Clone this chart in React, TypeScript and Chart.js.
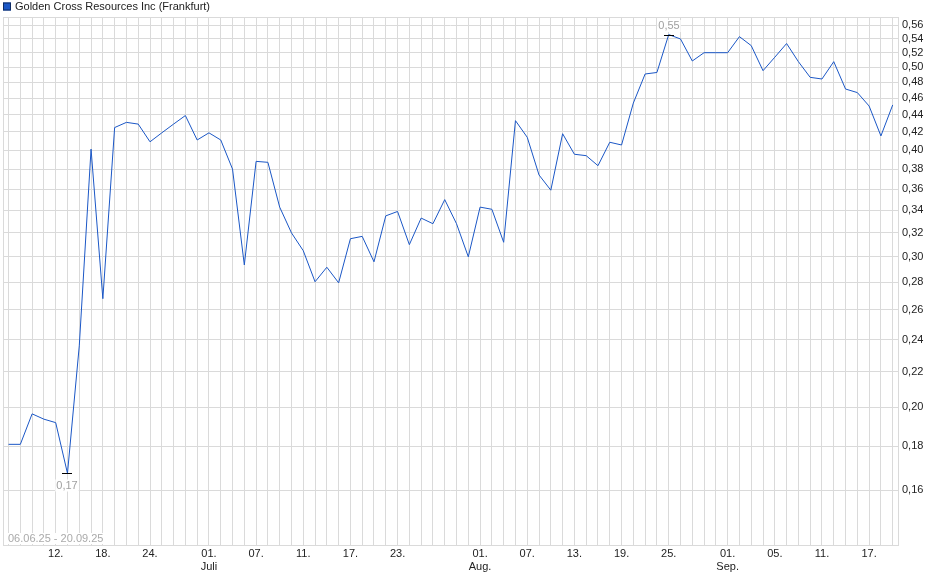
import { useEffect, useRef } from 'react'
import { Chart, registerables } from 'chart.js'

Chart.register(...registerables)

const TITLE = 'Golden Cross Resources Inc (Frankfurt)'
const RANGE_TEXT = '06.06.25 - 20.09.25'

// trading days, 06.06.25 - 19.09.25
const DATES = [
  '06.06', '09.06', '10.06', '11.06', '12.06', '13.06', '16.06', '17.06', '18.06', '19.06',
  '20.06', '23.06', '24.06', '25.06', '26.06', '27.06', '30.06',
  '01.07', '02.07', '03.07', '04.07', '07.07', '08.07', '09.07', '10.07', '11.07', '14.07',
  '15.07', '16.07', '17.07', '18.07', '21.07', '22.07', '23.07', '24.07', '25.07', '28.07',
  '29.07', '30.07', '31.07',
  '01.08', '04.08', '05.08', '06.08', '07.08', '08.08', '11.08', '12.08', '13.08', '14.08',
  '15.08', '18.08', '19.08', '20.08', '21.08', '22.08', '25.08', '26.08', '27.08', '28.08',
  '29.08',
  '01.09', '02.09', '03.09', '04.09', '05.09', '08.09', '09.09', '10.09', '11.09', '12.09',
  '15.09', '16.09', '17.09', '18.09', '19.09',
]

const PRICES = [
  0.181, 0.181, 0.1965, 0.1937, 0.1919, 0.1674, 0.236, 0.401, 0.268, 0.425,
  0.431, 0.429, 0.409, 0.419, 0.429, 0.439, 0.411,
  0.419, 0.411, 0.38, 0.2935, 0.388, 0.387, 0.343, 0.32, 0.305, 0.2805,
  0.2917, 0.2797, 0.315, 0.317, 0.296, 0.335, 0.339, 0.31, 0.333, 0.328,
  0.35, 0.328, 0.3,
  0.343, 0.341, 0.312, 0.433, 0.414, 0.374, 0.359, 0.418, 0.3955, 0.394,
  0.3835, 0.4085, 0.4055, 0.454, 0.491, 0.493, 0.546, 0.5396, 0.5085, 0.52,
  0.52,
  0.52, 0.543, 0.53, 0.4954, 0.5137, 0.533, 0.5076, 0.4866, 0.4844, 0.5076,
  0.4715, 0.467, 0.4504, 0.4155, 0.4517,
]

const X_TICKS = [
  '12.06', '18.06', '24.06', '01.07', '07.07', '11.07', '17.07', '23.07', '01.08',
  '07.08', '13.08', '19.08', '25.08', '01.09', '05.09', '11.09', '17.09',
]
const MONTHS: Record<string, string> = { '01.07': 'Juli', '01.08': 'Aug.', '01.09': 'Sep.' }

const Y_TICKS = [
  0.16, 0.18, 0.2, 0.22, 0.24, 0.26, 0.28, 0.3, 0.32, 0.34, 0.36, 0.38, 0.4, 0.42, 0.44,
  0.46, 0.48, 0.5, 0.52, 0.54, 0.56,
]

const LINE_COLOR = '#1b57c6'
const GRID_COLOR = '#dadada'
const FONT = '"Liberation Sans", Arial, sans-serif'

const fmt = (v: number) => v.toFixed(2).replace('.', ',')

const overlay = {
  id: 'overlay',
  beforeDatasetsDraw(chart: any) {
    const { ctx, chartArea: a } = chart
    ctx.save()
    ctx.strokeStyle = GRID_COLOR
    ctx.lineWidth = 1
    ctx.strokeRect(Math.round(a.left) + 0.5, Math.round(a.top) + 0.5, Math.round(a.right - a.left), Math.round(a.bottom - a.top))
    ctx.restore()
  },
  afterDraw(chart: any) {
    const { ctx, chartArea: a } = chart
    const xs = chart.scales.x
    const ys = chart.scales.y
    ctx.save()
    ctx.font = `11px ${FONT}`
    ctx.textBaseline = 'middle'

    // legend
    ctx.fillStyle = LINE_COLOR
    ctx.fillRect(3, 2.5, 8, 8)
    ctx.strokeStyle = '#0d2b63'
    ctx.strokeRect(3.5, 3, 7, 7)
    ctx.fillStyle = '#222'
    ctx.textAlign = 'left'
    ctx.fillText(TITLE, 15, 7)

    // date range
    const rw = ctx.measureText(RANGE_TEXT).width
    ctx.fillStyle = '#fff'
    ctx.fillRect(a.left + 4, a.bottom - 12, rw + 3, 11)
    ctx.fillStyle = '#aaa'
    ctx.fillText(RANGE_TEXT, a.left + 5, a.bottom - 6)

    // max / min markers
    const hi = PRICES.indexOf(Math.max(...PRICES))
    const lo = PRICES.indexOf(Math.min(...PRICES))
    const marks = [
      { i: hi, dy: -9.5 },
      { i: lo, dy: 12 },
    ]
    ctx.textAlign = 'center'
    for (const m of marks) {
      const px = Math.round(xs.getPixelForValue(m.i))
      const py = Math.round(ys.getPixelForValue(PRICES[m.i])) + 0.5
      ctx.strokeStyle = '#000'
      ctx.lineWidth = 1
      ctx.beginPath()
      ctx.moveTo(px - 5, py)
      ctx.lineTo(px + 5, py)
      ctx.stroke()
      const label = fmt(PRICES[m.i])
      const w = ctx.measureText(label).width
      ctx.fillStyle = '#fff'
      ctx.fillRect(px - w / 2 - 1, py + m.dy - 6, w + 2, 12)
      ctx.fillStyle = '#a0a0a0'
      ctx.fillText(label, px, py + m.dy)
    }
    ctx.restore()
  },
}

export default function App() {
  const canvasRef = useRef<HTMLCanvasElement>(null)
  const chartRef = useRef<Chart | null>(null)

  useEffect(() => {
    document.body.style.margin = '0'
    if (!canvasRef.current) return

    if (chartRef.current) {
      chartRef.current.destroy()
    }

    chartRef.current = new Chart(canvasRef.current, {
      type: 'line',
      data: {
        datasets: [
          {
            label: TITLE,
            data: PRICES.map((v, i) => ({ x: i, y: v })),
            borderColor: LINE_COLOR,
            borderWidth: 1,
            pointRadius: 0,
            tension: 0,
            fill: false,
          },
        ],
      },
      options: {
        responsive: true,
        maintainAspectRatio: false,
        animation: false,
        layout: { padding: { left: 3, top: 17, right: 0, bottom: 0 } },
        plugins: {
          legend: { display: false },
          tooltip: { enabled: false },
        },
        scales: {
          x: {
            type: 'linear',
            min: -0.47,
            max: 75.45,
            afterBuildTicks: (scale: any) => {
              scale.ticks = DATES.map((_, i) => ({ value: i }))
            },
            afterFit: (scale: any) => {
              scale.height = 34
            },
            grid: { color: GRID_COLOR, drawTicks: false },
            border: { color: GRID_COLOR },
            ticks: {
              autoSkip: false,
              maxRotation: 0,
              minRotation: 0,
              padding: 2,
              color: '#222',
              font: { family: FONT, size: 11 },
              callback: (value: any) => {
                const d = DATES[Number(value)]
                if (!X_TICKS.includes(d)) return ''
                const day = d.slice(0, 3)
                return MONTHS[d] ? [day, MONTHS[d]] : day
              },
            },
          },
          y: {
            type: 'logarithmic',
            position: 'right',
            min: 0.138,
            max: 0.5725,
            afterBuildTicks: (scale: any) => {
              scale.ticks = Y_TICKS.map(v => ({ value: v }))
            },
            afterFit: (scale: any) => {
              scale.width = 42
            },
            grid: { color: GRID_COLOR, drawTicks: false },
            border: { color: GRID_COLOR },
            ticks: {
              padding: 4,
              color: '#222',
              font: { family: FONT, size: 11 },
              callback: (value: any) => fmt(Number(value)),
            },
          },
        },
      },
      plugins: [overlay],
    })

    return () => {
      if (chartRef.current) {
        chartRef.current.destroy()
        chartRef.current = null
      }
    }
  }, [])

  return (
    <div style={{ position: 'relative', width: 940, height: 579 }}>
      <canvas ref={canvasRef} />
    </div>
  )
}
